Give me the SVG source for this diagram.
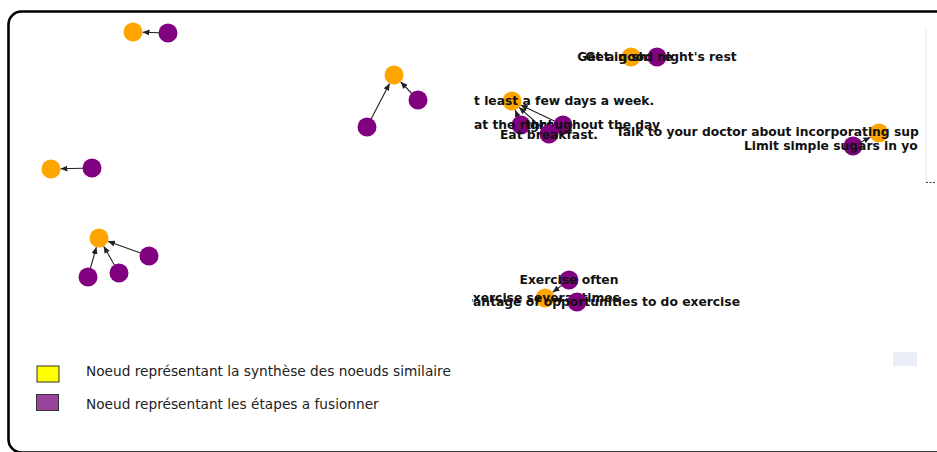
<svg xmlns="http://www.w3.org/2000/svg" width="937" height="452" viewBox="0 0 937 452">
<style>
.o{fill:#FFA500}
.p{fill:#800080}
.e{stroke:#222;stroke-width:1.1;fill:none;marker-end:url(#ah)}
.l{font-family:"DejaVu Sans",sans-serif;font-weight:bold;font-size:12.3px;fill:#111;dominant-baseline:central}
.lg{font-family:"DejaVu Sans",sans-serif;font-size:13.7px;fill:#222}
</style>
<defs>
<marker id="ah" markerWidth="7" markerHeight="6" refX="7" refY="3" orient="auto" markerUnits="userSpaceOnUse">
<path d="M0,0 L7,3 L0,6 z" fill="#222"/>
</marker>
<clipPath id="cp"><rect x="472" y="28" width="450" height="292"/></clipPath>
</defs>
<rect x="0" y="0" width="937" height="452" fill="#fff"/>
<rect x="8.5" y="11.5" width="945" height="441" rx="13" fill="none" stroke="#000" stroke-width="2.6"/>
<line x1="926" y1="28" x2="926" y2="182" stroke="#eef0f8" stroke-width="1.5"/>
<line x1="926" y1="182.5" x2="936" y2="182.5" stroke="#333" stroke-width="1" stroke-dasharray="2,1.5"/>
<rect x="893" y="352" width="24" height="14" fill="#e9eef6"/>
<g id="connectors">
<line class="e" x1="159" y1="32.7" x2="142.5" y2="32.3"/>
<line class="e" x1="83" y1="168.2" x2="60.5" y2="168.8"/>
<line class="e" x1="90.4" y1="268.3" x2="96.4" y2="247.1"/>
<line class="e" x1="114.5" y1="265.2" x2="103.7" y2="246.2"/>
<line class="e" x1="140.5" y1="252.9" x2="107.9" y2="241.2"/>
<line class="e" x1="371.1" y1="119" x2="389.6" y2="83.4"/>
<line class="e" x1="411.8" y1="93.5" x2="400.6" y2="81.8"/>
<line class="e" x1="554.9" y1="121.2" x2="520.6" y2="105"/>
<line class="e" x1="517.8" y1="116.6" x2="515.3" y2="109.9"/>
<line class="e" x1="542.3" y1="128" x2="519.1" y2="107.3"/>
<line class="e" x1="861" y1="142" x2="870.5" y2="137.2"/>
<line class="e" x1="561.8" y1="285.4" x2="552.6" y2="292.3"/>
<line class="e" x1="568" y1="300.9" x2="554.4" y2="299.2"/>
</g>
<g id="n1"><circle class="o" cx="133" cy="32" r="9.5"/></g>
<g id="n2"><circle class="p" cx="168" cy="33" r="9.5"/></g>
<g id="n3"><circle class="o" cx="51" cy="169" r="9.5"/></g>
<g id="n4"><circle class="p" cx="92" cy="168" r="9.5"/></g>
<g id="n5"><circle class="o" cx="99" cy="238" r="9.5"/></g>
<g id="n6"><circle class="p" cx="88" cy="277" r="9.5"/></g>
<g id="n7"><circle class="p" cx="119" cy="273" r="9.5"/></g>
<g id="n8"><circle class="p" cx="149" cy="256" r="9.5"/></g>
<g id="n9"><circle class="o" cx="394" cy="75" r="9.5"/></g>
<g id="n10"><circle class="p" cx="367" cy="127" r="9.5"/></g>
<g id="n11"><circle class="p" cx="418" cy="100" r="9.5"/></g>
<g clip-path="url(#cp)">
<g id="n12"><circle class="o" cx="631" cy="57" r="9.5"/><text class="l" x="629" y="57" text-anchor="middle">Get in shape</text></g>
<g id="n13"><circle class="p" cx="657" cy="57" r="9.5"/><text class="l" x="657" y="57" text-anchor="middle">Get a good night's rest</text></g>
<g id="n14"><circle class="o" cx="512" cy="101" r="9.5"/><text class="l" x="474" y="101">t least a few days a week.</text></g>
<g id="n15"><circle class="p" cx="521" cy="125" r="9.5"/><text class="l" x="474" y="125">at the right</text></g>
<g id="n16"><circle class="p" cx="563" cy="125" r="9.5"/><text class="l" x="660" y="125" text-anchor="end">throughout the day</text></g>
<g id="n17"><circle class="p" cx="549" cy="134" r="9.5"/><text class="l" x="549" y="135" text-anchor="middle">Eat breakfast.</text></g>
<g id="n18"><circle class="o" cx="879" cy="133" r="9.5"/><text class="l" x="616" y="132">Talk to your doctor about incorporating sup</text></g>
<g id="n19"><circle class="p" cx="853" cy="146" r="9.5"/><text class="l" x="744" y="146">Limit simple sugars in yo</text></g>
<g id="n20"><circle class="o" cx="545" cy="298" r="9.5"/><text class="l" x="620" y="298" text-anchor="end">Exercise several times</text></g>
<g id="n21"><circle class="p" cx="569" cy="280" r="9.5"/><text class="l" x="569" y="280" text-anchor="middle">Exercise often</text></g>
<g id="n22"><circle class="p" cx="577" cy="302" r="9.5"/><text class="l" x="740" y="302" text-anchor="end">Take advantage of opportunities to do exercise</text></g>
</g>
<g id="legend">
<rect x="37" y="366" width="22" height="16" fill="#FFFF00" stroke="#333" stroke-width="1"/>
<text class="lg" x="86" y="376">Noeud représentant la synthèse des noeuds similaire</text>
<rect x="36.5" y="394.5" width="22" height="16" fill="#9B449B" stroke="#333" stroke-width="1"/>
<text class="lg" x="86" y="409">Noeud représentant les étapes a fusionner</text>
</g>
</svg>
